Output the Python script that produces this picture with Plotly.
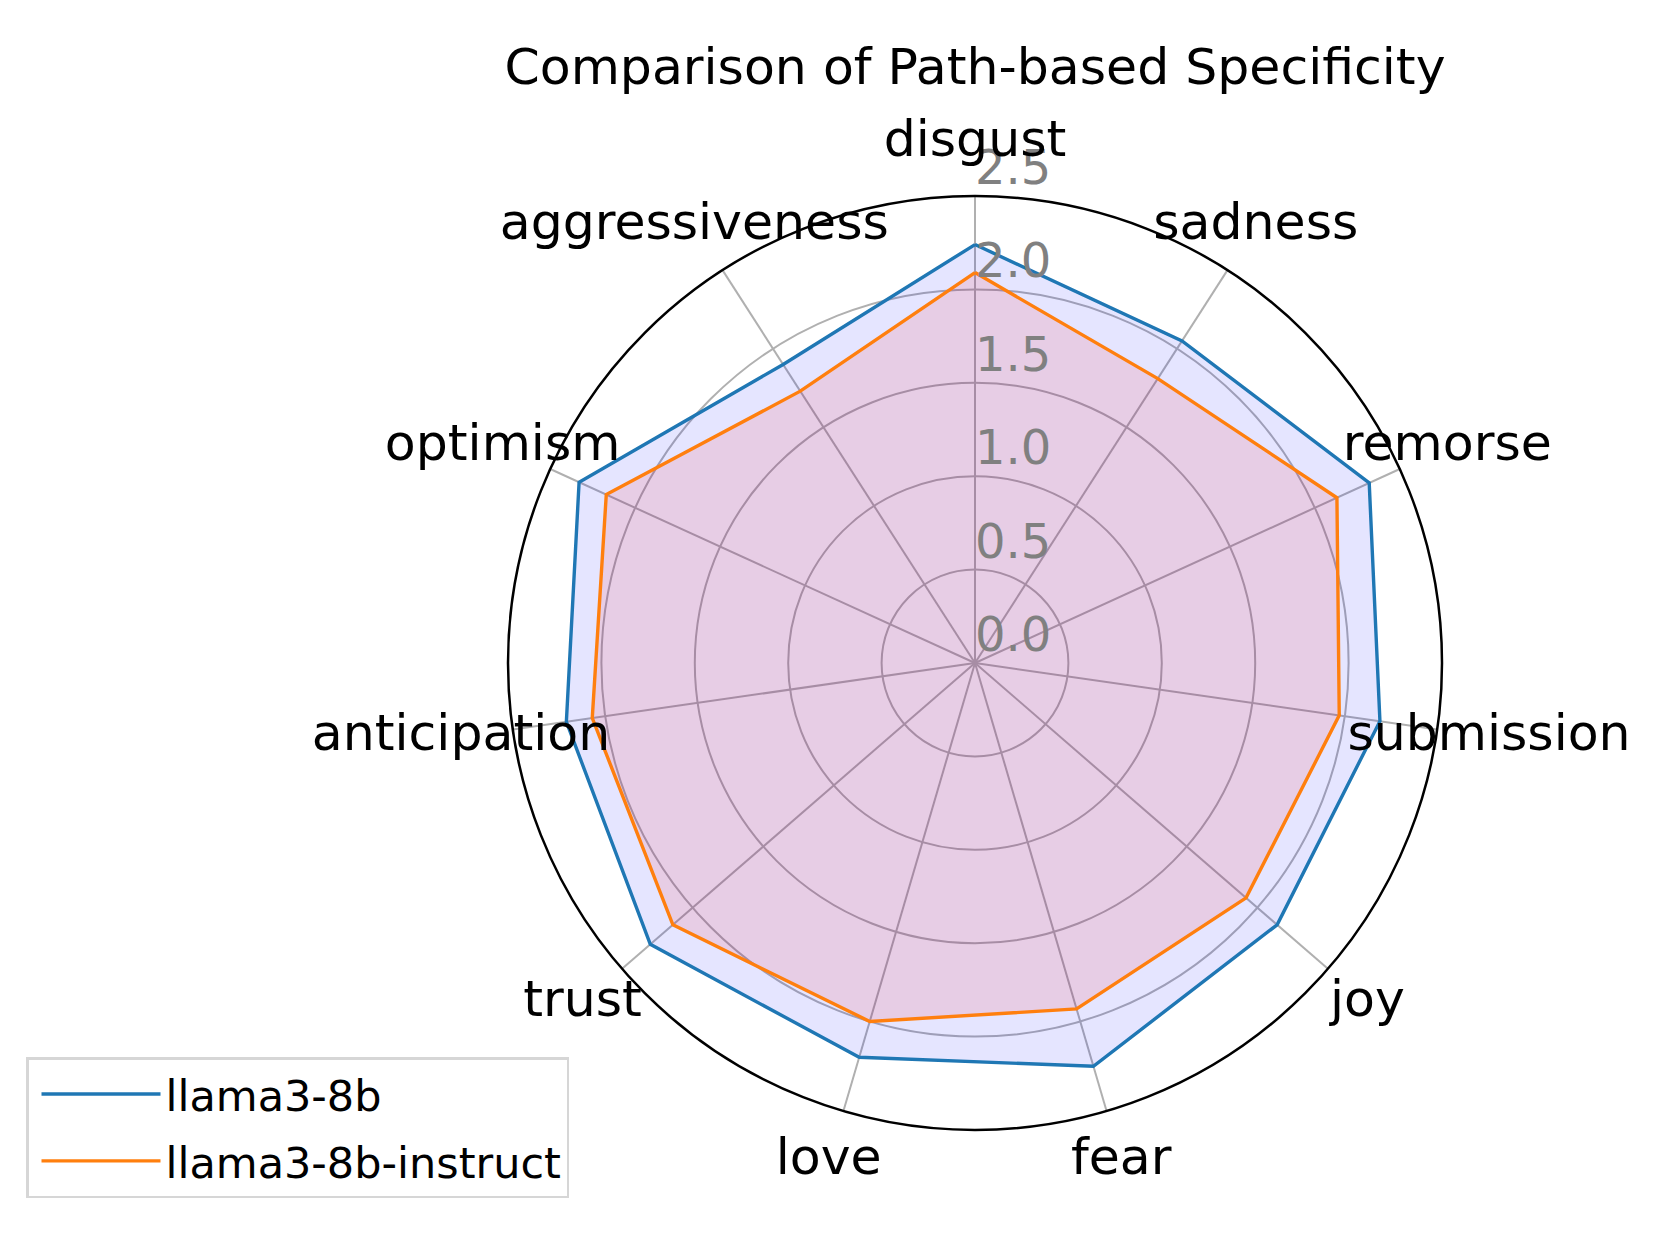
import plotly.graph_objects as go

# categories, clockwise from the top
categories = ["disgust", "sadness", "remorse", "submission", "joy", "fear",
              "love", "trust", "anticipation", "optimism", "aggressiveness"]

llama3_8b = [2.24, 2.05, 2.32, 2.19, 2.14, 2.25, 2.20, 2.30, 2.21, 2.33, 1.90]
llama3_8b_instruct = [2.09, 1.81, 2.13, 1.97, 1.92, 1.93, 2.00, 2.14, 2.07, 2.17, 1.73]

radial_ticks = [0.0, 0.5, 1.0, 1.5, 2.0, 2.5]

FONT = "DejaVu Sans"
W, H = 1660, 1245
OFF = 8            # page body margin in px, compensated below
R_MAX = 2.5
LABEL_R = 2.78     # category labels centred a bit outside the outer ring (like matplotlib)
R2_MAX = LABEL_R * 1.05

# main polar: centre and radius in page pixels
CX, CY, RAD = 975 - OFF, 663 - OFF, 467
RAD2 = RAD * R2_MAX / R_MAX


def closed(vals):
    return list(vals) + [vals[0]]


def dom(rad):
    return dict(x=[(CX - rad) / W, (CX + rad) / W],
                y=[1 - (CY + rad) / H, 1 - (CY - rad) / H])


theta = closed(categories)

fig = go.Figure()

# filled areas first (no legend), then the outlines
fig.add_trace(go.Scatterpolar(r=closed(llama3_8b), theta=theta, mode="lines",
                              fill="toself", fillcolor="rgba(0,0,255,0.1)",
                              line=dict(width=0), showlegend=False, hoverinfo="skip"))
fig.add_trace(go.Scatterpolar(r=closed(llama3_8b_instruct), theta=theta, mode="lines",
                              fill="toself", fillcolor="rgba(255,0,0,0.1)",
                              line=dict(width=0), showlegend=False, hoverinfo="skip"))
fig.add_trace(go.Scatterpolar(r=closed(llama3_8b), theta=theta, mode="lines",
                              name="llama3-8b", legendgroup="a",
                              line=dict(color="#1f77b4", width=3.4)))
fig.add_trace(go.Scatterpolar(r=closed(llama3_8b_instruct), theta=theta, mode="lines",
                              name="llama3-8b-instruct", legendgroup="b",
                              line=dict(color="#ff7f0e", width=3.4)))

# radial tick labels, along the top spoke
fig.add_trace(go.Scatterpolar(r=radial_ticks, theta=[categories[0]] * len(radial_ticks),
                              mode="text", text=[f"{v:.1f}" for v in radial_ticks],
                              textposition="top right", cliponaxis=False,
                              textfont=dict(family=FONT, size=48, color="gray"),
                              showlegend=False, hoverinfo="skip"))
# category labels, on an invisible overlay polar with the same scale
fig.add_trace(go.Scatterpolar(r=[LABEL_R] * len(categories), theta=categories,
                              subplot="polar2", mode="text", text=categories,
                              textposition="middle center", cliponaxis=False,
                              textfont=dict(family=FONT, size=50.5, color="black"),
                              showlegend=False, hoverinfo="skip"))

fig.update_layout(
    width=W, height=H,
    paper_bgcolor="white",
    margin=dict(l=0, r=0, t=0, b=0),
    font=dict(family=FONT, color="black"),
    title=dict(text="Comparison of Path-based Specificity",
               x=(975 - OFF) / W, y=1 - (66 - OFF) / H,
               xanchor="center", yanchor="middle", font=dict(size=50.5, color="black")),
    polar=dict(
        domain=dom(RAD),
        bgcolor="white",
        angularaxis=dict(direction="clockwise", rotation=90, categoryorder="array",
                         categoryarray=categories, showticklabels=False,
                         showline=True, linecolor="black", linewidth=2.5,
                         gridcolor="#b0b0b0", gridwidth=2.4, ticks=""),
        radialaxis=dict(range=[0, R_MAX], tickvals=radial_ticks, angle=90,
                        showticklabels=False, showline=False, ticks="",
                        gridcolor="#b0b0b0", gridwidth=2.4),
    ),
    polar2=dict(
        domain=dom(RAD2),
        bgcolor="rgba(0,0,0,0)",
        angularaxis=dict(direction="clockwise", rotation=90, categoryorder="array",
                         categoryarray=categories, showticklabels=False,
                         showline=False, showgrid=False, ticks=""),
        radialaxis=dict(range=[0, R2_MAX], visible=False),
    ),
    legend=dict(x=(26 - OFF) / W, y=1 - (1057 - OFF) / H, xanchor="left", yanchor="top",
                bordercolor="#d6d6d6", borderwidth=2.5, bgcolor="white",
                font=dict(size=43, color="black"), itemwidth=119, indentation=8,
                tracegroupgap=8),
)

fig.write_html("out.html")
